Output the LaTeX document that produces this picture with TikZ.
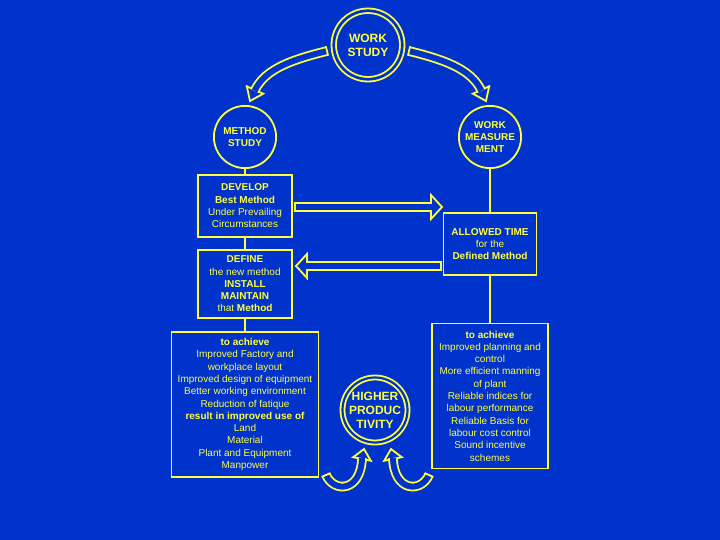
\documentclass[tikz,border=0pt]{standalone}
\usepackage{fontspec}
\setmainfont{Liberation Sans}
\usetikzlibrary{calc}
\definecolor{wsblue}{RGB}{0, 51, 204}
\definecolor{wsyellow}{RGB}{255, 255, 64}

\tikzset{
  yline/.style={draw=wsyellow, line width=1.8pt},
  ycircle/.style={circle, yline, text=wsyellow, align=center, inner sep=0pt, minimum size=62.2pt, font=\bfseries\fontsize{10}{12}\selectfont},
  ydouble/.style={ycircle, double=wsblue, double distance=2.7pt, font=\bfseries\fontsize{12}{14}\selectfont},
  ybox/.style={rectangle, yline, text=wsyellow, align=center, inner sep=0pt, font=\fontsize{10}{12.3}\selectfont},
  hollowbody/.style={yline, double=wsblue, double distance=6pt, shorten >=-1pt},
}

% hollow block arrow: start, control 1, control 2, end of body, tip, half width of head
\newcommand{\hollowarrow}[6]{%
  \draw[yline, fill=wsblue] #5 -- ($#4!#6!90:#5$) -- ($#4!#6!-90:#5$) -- cycle;
  \draw[hollowbody] #1 .. controls #2 and #3 .. #4;
  \draw[yline] ($#1!4.8pt!90:#2$) -- ($#1!4.8pt!-90:#2$);
}

\begin{document}
\begin{tikzpicture}[x=1pt, y=-1pt]
    \fill[wsblue] (0,0) rectangle (720,540);

    % Circles
    \node[ydouble, minimum size=68.5pt] (ws) at (368,45) {WORK\\STUDY};
    \node[ycircle] (ms) at (245,137) {METHOD\\STUDY};
    \node[ycircle] (wm) at (490,137) {WORK\\MEASURE\\MENT};
    \node[ydouble, minimum size=65pt, double distance=2.2pt] (hp) at (375,410) {HIGHER\\PRODUC\\TIVITY};

    % Method study side
    \node[ybox, minimum width=94pt, minimum height=62pt] (dev) at (245,206)
        {\textbf{DEVELOP}\\\textbf{Best Method}\\Under Prevailing\\Circumstances};
    \node[ybox, minimum width=94pt, minimum height=68pt] (def) at (245,284)
        {\textbf{DEFINE}\\the new method\\\textbf{INSTALL}\\\textbf{MAINTAIN}\\that \textbf{Method}};
    \node[ybox, minimum width=147pt, minimum height=145pt] (res1) at (245,404.5)
        {\textbf{to achieve}\\Improved Factory and\\workplace layout\\Improved design of equipment\\Better working environment\\Reduction of fatique\\\textbf{result in improved use of}\\Land\\Material\\Plant and Equipment\\Manpower};

    % Work measurement side
    \node[ybox, minimum width=93pt, minimum height=62pt] (allow) at (490,244)
        {\textbf{ALLOWED TIME}\\for the\\\textbf{Defined Method}};
    \node[ybox, minimum width=116pt, minimum height=145pt] (res2) at (490,396)
        {\textbf{to achieve}\\Improved planning and\\control\\More efficient manning\\of plant\\Reliable indices for\\labour performance\\Reliable Basis for\\labour cost control\\Sound incentive\\schemes};

    % Links
    \draw[yline] (ms) -- (dev);
    \draw[yline] (dev) -- (def);
    \draw[yline] (def) -- (res1);
    \draw[yline] (wm) -- (allow);
    \draw[yline] (allow) -- (res2);

    % Hollow arrows
    \coordinate (wsl) at (327,51);
    \coordinate (msh) at (255,90);
    \coordinate (mstip) at (250,101);
    \hollowarrow{(wsl)}{(295,59)}{(265,68)}{(msh)}{(mstip)}{9pt}

    \coordinate (wsr) at (409,51);
    \coordinate (wmh) at (481,90);
    \coordinate (wmtip) at (486,101);
    \hollowarrow{(wsr)}{(441,59)}{(471,68)}{(wmh)}{(wmtip)}{9pt}

    \coordinate (devr) at (295,207);
    \coordinate (allowh) at (431,207);
    \coordinate (allowtip) at (442,207);
    \hollowarrow{(devr)}{(350,207)}{(400,207)}{(allowh)}{(allowtip)}{12pt}

    \coordinate (allowl) at (441,266);
    \coordinate (defh) at (307,266);
    \coordinate (deftip) at (296,266);
    \hollowarrow{(allowl)}{(400,266)}{(350,266)}{(defh)}{(deftip)}{12pt}

    \coordinate (lfoot) at (326,475);
    \coordinate (hplh) at (362,459);
    \coordinate (hpltip) at (364,449);
    \hollowarrow{(lfoot)}{(334,493)}{(361,492)}{(hplh)}{(hpltip)}{9pt}

    \coordinate (rfoot) at (429,475);
    \coordinate (hprh) at (393,459);
    \coordinate (hprtip) at (391,449);
    \hollowarrow{(rfoot)}{(421,493)}{(394,492)}{(hprh)}{(hprtip)}{9pt}
\end{tikzpicture}
\end{document}
